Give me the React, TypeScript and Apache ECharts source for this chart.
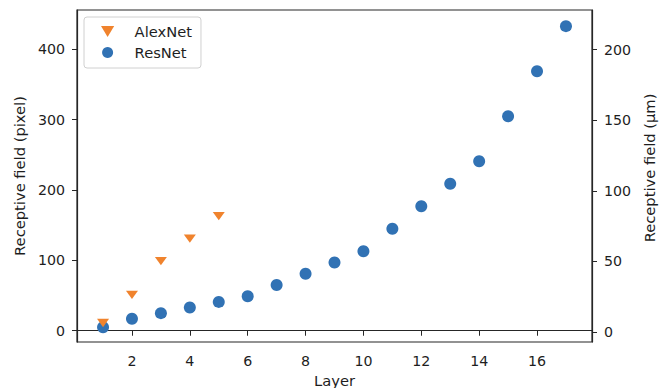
import React, { useEffect, useRef } from "react";
import * as echarts from "echarts";

const layers = [1, 2, 3, 4, 5, 6, 7, 8, 9, 10, 11, 12, 13, 14, 15, 16, 17];
const resnetPixels = [5, 17, 25, 33, 41, 49, 65, 81, 97, 113, 145, 177, 209, 241, 305, 369, 433];
const alexLayers = [1, 2, 3, 4, 5];
const alexnetPixels = [11, 51, 99, 131, 163];
const xTicks = [2, 4, 6, 8, 10, 12, 14, 16];
const leftTicks = [0, 100, 200, 300, 400];
const rightTicks = [0, 50, 100, 150, 200];

const FONT = "DejaVu Sans";
const TEXT = "#1e1e1e";
const LINE = "#262626";
const ORANGE = "#f0832d";
const BLUE = "#3172b4";
const TRI = "path://M0,0 L12,0 L6,10 Z";

export default function App() {
  const ref = useRef<HTMLDivElement>(null);
  useEffect(() => {
    if (!ref.current) return;
    const chart = echarts.init(ref.current, undefined, { renderer: "svg" });
    const axisLine = { show: true, lineStyle: { color: LINE, width: 1.2 } };
    const axisTick = { show: true, inside: false, length: 5, lineStyle: { color: LINE, width: 1 } };
    const label = { color: TEXT, fontFamily: FONT, fontSize: 14.2, margin: 12 };
    const nameStyle = { color: TEXT, fontFamily: FONT, fontSize: 14.7 };
    chart.setOption({
      animation: false,
      backgroundColor: "#ffffff",
      textStyle: { fontFamily: FONT },
      grid: {
        left: 77,
        right: 73,
        top: 10,
        bottom: 46,
        containLabel: false,
        outerBoundsMode: "none",
        show: true,
        borderColor: LINE,
        borderWidth: 1.2,
      },
      legend: {
        show: true,
        orient: "vertical",
        left: 84,
        top: 17,
        padding: [7, 9, 8, 17],
        itemGap: 6,
        itemWidth: 44,
        itemHeight: 11,
        borderColor: "#d0d0d0",
        borderWidth: 1,
        borderRadius: 3,
        backgroundColor: "rgba(255,255,255,0.8)",
        textStyle: { color: TEXT, fontFamily: FONT, fontSize: 14.7, lineHeight: 14 },
        data: [
          { name: "AlexNet", icon: TRI },
          { name: "ResNet", icon: "circle" },
        ],
      },
      xAxis: {
        type: "value",
        min: 0.1,
        max: 17.9,
        name: "Layer",
        nameLocation: "middle",
        nameGap: 28,
        nameTextStyle: nameStyle,
        axisLine,
        axisTick: { ...axisTick, customValues: xTicks },
        axisLabel: { ...label, customValues: xTicks },
        splitLine: { show: false },
      },
      yAxis: [
        {
          type: "value",
          position: "left",
          min: -16,
          max: 456,
          name: "Receptive field (pixel)",
          nameLocation: "middle",
          nameRotate: 90,
          nameGap: 46,
          nameTextStyle: nameStyle,
          axisLine,
          axisTick: { ...axisTick, customValues: leftTicks },
          axisLabel: { ...label, customValues: leftTicks },
          splitLine: { show: false },
        },
        {
          type: "value",
          position: "right",
          min: -7,
          max: 228,
          name: "Receptive field (µm)",
          nameLocation: "middle",
          nameRotate: 90,
          nameGap: 46,
          nameTextStyle: { ...nameStyle, padding: [0, 0, 0, 16] },
          axisLine,
          axisTick: { ...axisTick, customValues: rightTicks },
          axisLabel: { ...label, customValues: rightTicks },
          splitLine: { show: false },
        },
      ],
      series: [
        {
          name: "AlexNet",
          type: "scatter",
          yAxisIndex: 0,
          symbol: TRI,
          symbolKeepAspect: true,
          symbolSize: [12, 10],
          itemStyle: { color: ORANGE, opacity: 1 },
          data: alexLayers.map((l, i) => [l, alexnetPixels[i]]),
          z: 3,
        },
        {
          name: "ResNet",
          type: "scatter",
          yAxisIndex: 0,
          symbol: "circle",
          symbolSize: 12,
          itemStyle: { color: BLUE, opacity: 1 },
          data: layers.map((l, i) => [l, resnetPixels[i]]),
          z: 2,
        },
      ],
    });
    return () => chart.dispose();
  }, []);
  return (
    <div
      ref={ref}
      style={{ position: "fixed", left: 0, top: 0, width: 665, height: 388, background: "#fff" }}
    />
  );
}
